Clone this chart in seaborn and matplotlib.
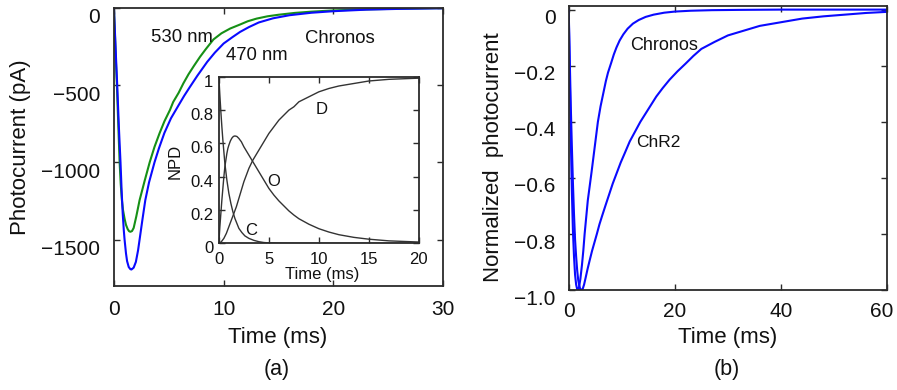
import numpy as np
import pandas as pd
import seaborn as sns
import matplotlib.pyplot as plt
from matplotlib.transforms import ScaledTranslation

sns.set_style("ticks")
plt.rcParams["font.family"] = ["Liberation Sans", "DejaVu Sans"]
plt.rcParams["text.color"] = "#111111"
plt.rcParams["axes.labelcolor"] = "#111111"
plt.rcParams["xtick.labelcolor"] = "#111111"
plt.rcParams["ytick.labelcolor"] = "#111111"

# (a) Chronos photocurrent (pA) at 530 nm and 470 nm
t_530 = [0, 0.1, 0.2, 0.27, 0.4, 0.52, 0.62, 0.72, 0.83, 0.97, 1.1, 1.25, 1.38,
         1.5, 1.65, 1.8, 2.04, 2.34, 2.8, 3.26, 3.7, 4.17, 4.6, 5.11, 5.4, 5.9,
         6.33, 6.8, 7.3, 7.85, 8.4, 9.07, 9.8, 10.6, 11.5, 12.2, 13.0, 14.0, 15.0,
         16.5, 18.0, 20.0, 23.0, 26.0, 30.0]
i_530 = [0, -190, -380, -500, -760, -1000, -1140, -1240, -1310, -1365, -1405,
         -1432, -1446, -1450, -1445, -1425, -1350, -1245, -1120, -1000, -900, -810,
         -735, -661, -610, -550, -489, -430, -375, -317, -265, -205, -165, -134,
         -108, -87, -70, -55, -45, -33, -25, -17, -10, -6, -2]
t_470 = [0, 0.1, 0.2, 0.3, 0.45, 0.6, 0.7, 0.8, 0.9, 0.97, 1.1, 1.2, 1.35, 1.5,
         1.6, 1.8, 2.0, 2.2, 2.34, 2.6, 2.86, 3.2, 3.7, 4.1, 4.6, 5.2, 5.9, 6.4,
         6.9, 7.6, 8.5, 9.2, 10.0, 10.8, 11.5, 12.3, 13.2, 14.5, 16.0, 18.0, 20.0,
         23.0, 26.0, 30.0]
i_470 = [0, -170, -340, -500, -770, -1000, -1180, -1330, -1440, -1500, -1590,
         -1640, -1678, -1692, -1694, -1682, -1645, -1570, -1500, -1370, -1245,
         -1130, -1000, -910, -810, -715, -630, -570, -515, -440, -350, -290, -231,
         -190, -156, -125, -95, -68, -48, -32, -22, -12, -7, -3]

# inset: normalized populations of the C, O and D states
t_c = [0, 0.1, 0.2, 0.3, 0.4, 0.5, 0.6, 0.7, 0.8, 0.9, 1.0, 1.2, 1.4, 1.6, 1.8,
       2.0, 2.3, 2.6, 3.0, 3.5, 4.0, 4.5, 5.0, 6.0, 8.0, 20.0]
pop_c = [1.0, 0.89, 0.79, 0.70, 0.62, 0.55, 0.48, 0.43, 0.38, 0.34, 0.30, 0.24,
         0.19, 0.15, 0.12, 0.09, 0.065, 0.045, 0.03, 0.018, 0.01, 0.005, 0.003,
         0.001, 0, 0]
t_o = [0, 0.1, 0.2, 0.3, 0.4, 0.5, 0.6, 0.7, 0.8, 0.9, 1.0, 1.15, 1.3, 1.45, 1.6,
       1.8, 2.0, 2.25, 2.5, 2.75, 3.0, 3.4, 3.8, 4.2, 4.6, 5.0, 5.5, 6.0, 6.5, 7.0,
       7.5, 8.0, 9.0, 10.0, 11.0, 12.0, 13.5, 15.0, 17.0, 20.0]
pop_o = [0, 0.1, 0.18, 0.26, 0.33, 0.4, 0.46, 0.5, 0.54, 0.57, 0.59, 0.615, 0.632,
         0.642, 0.645, 0.642, 0.63, 0.61, 0.58, 0.555, 0.53, 0.49, 0.45, 0.41,
         0.37, 0.33, 0.29, 0.255, 0.225, 0.195, 0.17, 0.148, 0.115, 0.088, 0.068,
         0.052, 0.036, 0.025, 0.015, 0.008]
t_d = [0, 0.25, 0.5, 0.75, 1.0, 1.25, 1.5, 1.75, 2.0, 2.25, 2.5, 2.75, 3.0, 3.4,
       3.8, 4.2, 4.6, 5.0, 5.5, 6.0, 6.5, 7.0, 7.5, 8.0, 9.0, 10.0, 11.0, 12.0,
       13.5, 15.0, 17.0, 20.0]
pop_d = [0, 0.01, 0.03, 0.06, 0.1, 0.14, 0.18, 0.22, 0.27, 0.32, 0.37, 0.41, 0.45,
         0.5, 0.54, 0.58, 0.62, 0.66, 0.7, 0.74, 0.77, 0.8, 0.82, 0.85, 0.88, 0.91,
         0.93, 0.945, 0.96, 0.975, 0.985, 0.992]

# (b) normalized photocurrent, Chronos vs ChR2
t_chronos = [0, 0.15, 0.3, 0.45, 0.6, 0.8, 1.0, 1.2, 1.4, 1.6, 1.76, 1.95, 2.2, 2.5,
             2.75, 3.0, 3.3, 3.6, 3.95, 4.3, 4.7, 5.1, 5.5, 6.0, 6.5, 7.0, 7.4, 8.0,
             8.5, 9.0, 9.6, 10.3, 11.1, 12.1, 13.2, 14.5, 16, 18, 20, 23, 27, 32,
             40, 50, 60]
n_chronos = [0, -0.17, -0.35, -0.51, -0.65, -0.79, -0.88, -0.945, -0.98, -0.997,
             -1.0, -0.99, -0.96, -0.91, -0.86, -0.8, -0.74, -0.68, -0.63, -0.58,
             -0.52, -0.46, -0.4, -0.345, -0.3, -0.255, -0.225, -0.19, -0.16, -0.135,
             -0.11, -0.088, -0.068, -0.05, -0.037, -0.026, -0.018, -0.011, -0.007,
             -0.004, -0.002, -0.001, 0, 0, 0]
t_chr2 = [0, 0.2, 0.4, 0.6, 0.8, 1.0, 1.2, 1.4, 1.6, 1.8, 2.0, 2.2, 2.4, 2.65, 2.9,
          3.2, 3.55, 3.95, 4.4, 4.85, 5.3, 5.8, 6.3, 6.9, 7.6, 8.3, 9.0, 9.8, 10.6,
          11.5, 12.5, 13.5, 14.5, 15.5, 16.5, 17.7, 19.0, 20.5, 22.0, 23.5, 25,
          27.5, 30, 33, 36, 40, 44, 48, 52, 56, 60]
n_chr2 = [0, -0.18, -0.35, -0.49, -0.62, -0.73, -0.82, -0.88, -0.93, -0.965, -0.985,
          -0.997, -1.0, -0.995, -0.98, -0.955, -0.925, -0.894, -0.86, -0.83, -0.8,
          -0.765, -0.735, -0.7, -0.66, -0.62, -0.585, -0.545, -0.51, -0.47, -0.435,
          -0.4, -0.37, -0.34, -0.31, -0.28, -0.25, -0.22, -0.193, -0.165, -0.14,
          -0.115, -0.092, -0.075, -0.058, -0.045, -0.032, -0.024, -0.018, -0.012,
          -0.008]

blue = "#0a0aff"
green = "#169016"
dark = "#2b2b2b"

fig = plt.figure(figsize=(8.97, 3.9), dpi=100)
ax1 = fig.add_axes([0.127, 0.267, 0.367, 0.713])
ax2 = fig.add_axes([0.634, 0.256, 0.355, 0.728])
ins = fig.add_axes([0.244, 0.376, 0.223, 0.427])


def style(ax, size, pad):
    for s in ax.spines.values():
        s.set_color(dark)
        s.set_linewidth(1.3)
    ax.tick_params(direction="in", top=True, right=True, length=4,
                   width=1.0, color=dark, labelsize=size, pad=pad)


def shift_labels(labels, dx, dy):
    off = ScaledTranslation(dx / 100, -dy / 100, fig.dpi_scale_trans)
    for lab in labels:
        lab.set_transform(lab.get_transform() + off)


# panel (a)
sns.lineplot(x=t_530, y=i_530, ax=ax1, color=green, lw=1.5, estimator=None)
sns.lineplot(x=t_470, y=i_470, ax=ax1, color=blue, lw=1.5, estimator=None)
ax1.set_xlim(0, 30)
ax1.set_ylim(-1800, 0)
ax1.set_xticks([0, 10, 20, 30])
ax1.set_yticks([-1500, -1000, -500, 0], ["\u22121500", "\u22121000", "\u2212500", "0"])
style(ax1, 15, 10)
ax1.set_xlabel("Time (ms)", fontsize=16)
ax1.set_ylabel("Photocurrent (pA)", fontsize=16)
ax1.xaxis.set_label_coords(0.4985, -0.147)
ax1.yaxis.set_label_coords(-0.252, 0.5)
ax1.text(6.2, -190, "530 nm", fontsize=13.3, ha="center", va="center")
ax1.text(13.0, -310, "470 nm", fontsize=13.3, ha="center", va="center")
ax1.text(20.6, -201, "Chronos", fontsize=13.3, ha="center", va="center")
shift_labels(ax1.get_yticklabels(), 0, 8)

# inset
for tt, pp in [(t_c, pop_c), (t_o, pop_o), (t_d, pop_d)]:
    sns.lineplot(x=tt, y=pp, ax=ins, color="#333333", lw=1.0, estimator=None)
ins.set_xlim(0, 20)
ins.set_ylim(0, 1)
ins.set_xticks([0, 5, 10, 15, 20])
ins.set_yticks([0, 0.2, 0.4, 0.6, 0.8, 1], ["0", "0.2", "0.4", "0.6", "0.8", "1"])
style(ins, 12, 4)
ins.tick_params(axis="x", pad=6)
ins.set_facecolor("white")
ins.set_xlabel("Time (ms)", fontsize=12)
ins.set_ylabel("NPD", fontsize=12)
ins.xaxis.set_label_coords(0.516, -0.142)
ins.yaxis.set_label_coords(-0.18, 0.49)
ins.text(10.3, 0.806, "D", fontsize=12, ha="center", va="center")
ins.text(5.5, 0.37, "O", fontsize=12, ha="center", va="center")
ins.text(3.2, 0.08, "C", fontsize=12, ha="center", va="center")
shift_labels(ins.get_yticklabels(), 0, 4)

# panel (b)
sns.lineplot(x=t_chronos, y=n_chronos, ax=ax2, color=blue, lw=1.5, estimator=None)
sns.lineplot(x=t_chr2, y=n_chr2, ax=ax2, color=blue, lw=1.5, estimator=None)
ax2.set_xlim(0, 60)
ax2.set_ylim(-1.0, 0.012)
ax2.set_xticks([0, 20, 40, 60])
ax2.set_yticks([-1.0, -0.8, -0.6, -0.4, -0.2, 0],
               ["\u22121.0", "\u22120.8", "\u22120.6", "\u22120.4", "\u22120.2", "0"])
style(ax2, 15, 9.5)
ax2.tick_params(axis="x", pad=8.5)
ax2.set_xlabel("Time (ms)", fontsize=16)
ax2.set_ylabel("Normalized  photocurrent", fontsize=16)
ax2.xaxis.set_label_coords(0.499, -0.130)
ax2.yaxis.set_label_coords(-0.204, 0.47)
ax2.text(17.9, -0.127, "Chronos", fontsize=13, ha="center", va="center")
ax2.text(16.8, -0.472, "ChR2", fontsize=12.5, ha="center", va="center")
shift_labels(ax2.get_yticklabels(), 0, 7)
shift_labels(ax2.get_xticklabels()[-1:], -5, 0)

fig.text(277 / 897, 1 - 370 / 390, "(a)", fontsize=15.5, ha="center", va="center")
fig.text(727 / 897, 1 - 370 / 390, "(b)", fontsize=15.5, ha="center", va="center")

fig.savefig("out.png", dpi=100)
